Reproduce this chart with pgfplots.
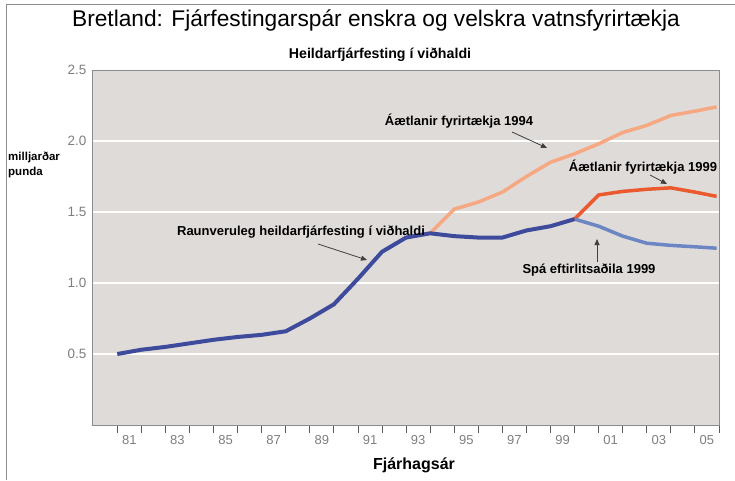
\documentclass[border=0pt]{standalone}
\usepackage{fontspec}
\setmainfont{Liberation Sans}
\usepackage{pgfplots}
\pgfplotsset{compat=1.18}
\usetikzlibrary{arrows.meta}
\definecolor{bg}{HTML}{DFDBD9}
\definecolor{dblue}{HTML}{3E4B9C}
\definecolor{lblue}{HTML}{6C86C4}
\definecolor{lorange}{HTML}{F5A882}
\definecolor{dred}{HTML}{EA5A2E}
\definecolor{ticklab}{HTML}{7E7E7E}
\definecolor{frame}{HTML}{8C8C8C}
\begin{document}
\begin{tikzpicture}
\useasboundingbox (-92pt,-55pt) rectangle (643pt,425pt);
\begin{axis}[
  at={(0pt,0pt)}, anchor=south west,
  scale only axis, width=627pt, height=355pt,
  xmin=1979.45, xmax=2005.5, ymin=0, ymax=2.5,
  axis background/.style={fill=bg},
  axis line style={draw=frame, line width=0.8pt},
  /pgf/number format/assume math mode=true,
  ytick={0.5,1.0,1.5,2.0,2.5},
  yticklabel={\pgfmathprintnumber[fixed,fixed zerofill,precision=1]{\tick}},
  yticklabel style={text=ticklab, font=\fontsize{13.5}{14}\selectfont, xshift=-2pt},
  ymajorgrids, grid style={white, line width=1.2pt},
  ytick pos=left, xtick pos=bottom,
  tick align=outside,
  ytick style={white, line width=1pt},
  xtick={1981,1983,...,2005},
  xticklabels={81,83,85,87,89,91,93,95,97,99,01,03,05},
  minor xtick={1980.5,1981.5,...,2005.5},
  major tick length=0pt,
  minor tick length=8pt,
  minor x tick style={draw=black!65, line width=0.8pt},
  xticklabel style={text=ticklab, font=\fontsize{13}{14}\selectfont, yshift=-7pt},
]
\addplot[lorange, line width=3.5pt, line join=round] coordinates {
 (1993.5,1.35) (1994.5,1.52) (1995.5,1.57) (1996.5,1.64) (1997.5,1.75)
 (1998.5,1.85) (1999.5,1.91) (2000.5,1.98) (2001.5,2.06) (2002.5,2.11)
 (2003.5,2.18) (2004.5,2.21) (2005.4,2.24)};
\addplot[dred, line width=3.5pt, line join=round] coordinates {
 (1999.5,1.45) (2000.5,1.62) (2001.5,1.645) (2002.5,1.66) (2003.5,1.67)
 (2004.5,1.64) (2005.4,1.61)};
\addplot[lblue, line width=3.5pt, line join=round] coordinates {
 (1999.5,1.45) (2000.5,1.40) (2001.5,1.33) (2002.5,1.28) (2003.5,1.265)
 (2004.5,1.255) (2005.4,1.245)};
\addplot[dblue, line width=4pt, line join=round] coordinates {
 (1980.5,0.50) (1981.5,0.53) (1982.5,0.55) (1983.5,0.575) (1984.5,0.60)
 (1985.5,0.62) (1986.5,0.635) (1987.5,0.66) (1988.5,0.75) (1989.5,0.85)
 (1990.5,1.03) (1991.5,1.22) (1992.5,1.32) (1993.5,1.35) (1994.5,1.33)
 (1995.5,1.32) (1996.5,1.32) (1997.5,1.37) (1998.5,1.40) (1999.5,1.45)};
\end{axis}
\begin{scope}[x=1pt,y=-1pt,shift={(-92pt,425pt)}]
  \draw[frame, line width=1pt] (7,480) -- (7,5) -- (735,5);
  \node at (376,20) {\fontsize{22.7}{24}\selectfont Bretland: Fjárfestingarspár enskra og velskra vatnsfyrirtækja};
  \node at (380,55) {\fontsize{14.2}{16}\selectfont\bfseries Heildarfjárfesting í viðhaldi};
  \node[anchor=west, align=left, inner sep=0pt, font=\fontsize{11.5}{14.5}\selectfont\bfseries] at (8,165) {milljarðar\\punda};
  \node at (414,465) {\fontsize{16}{18}\selectfont\bfseries Fjárhagsár};
  \begin{scope}[every node/.style={font=\fontsize{13}{14}\selectfont\bfseries}]
    \node at (301,232) {Raunveruleg heildarfjárfesting í viðhaldi};
    \node at (459,121) {Áætlanir fyrirtækja 1994};
    \node at (643,167) {Áætlanir fyrirtækja 1999};
    \node at (589,270) {Spá eftirlitsaðila 1999};
  \end{scope}
  \begin{scope}[black!75, line width=0.8pt, -{Triangle[length=6pt,width=5pt]}]
    \draw (318,244) -- (367,260);
    \draw (512,132) -- (547,148);
    \draw (650,175) -- (667,184);
    \draw (597,262) -- (597,239);
  \end{scope}
\end{scope}
\end{tikzpicture}
\end{document}
